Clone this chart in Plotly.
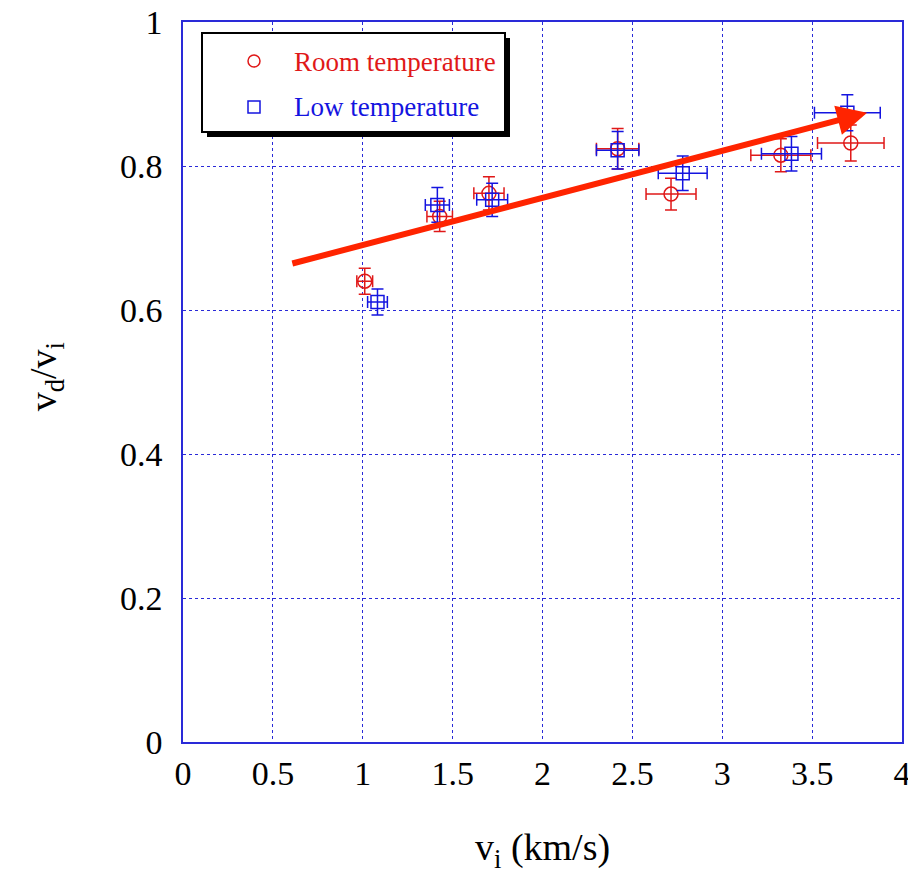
import plotly.graph_objects as go

# Room temperature measurements
room_vi = [1.011, 1.428, 1.702, 2.418, 2.715, 3.326, 3.715]
room_ratio = [0.640, 0.730, 0.762, 0.824, 0.761, 0.815, 0.832]
room_vi_err = [0.044, 0.071, 0.084, 0.118, 0.139, 0.167, 0.185]
room_ratio_err = [0.018, 0.021, 0.023, 0.028, 0.022, 0.023, 0.025]

# Low temperature measurements
low_vi = [1.082, 1.415, 1.720, 2.418, 2.780, 3.385, 3.696]
low_ratio = [0.611, 0.746, 0.753, 0.822, 0.790, 0.817, 0.874]
low_vi_err = [0.055, 0.067, 0.086, 0.118, 0.136, 0.167, 0.183]
low_ratio_err = [0.018, 0.024, 0.023, 0.026, 0.024, 0.024, 0.025]

# Trend arrow (tail -> head)
trend_start = (0.6, 0.664)
trend_end = (3.806, 0.874)

x_ticks = [0, 0.5, 1, 1.5, 2, 2.5, 3, 3.5, 4]
x_tick_labels = ["0", "0.5", "1", "1.5", "2", "2.5", "3", "3.5", "4"]
y_ticks = [0, 0.2, 0.4, 0.6, 0.8, 1]
y_tick_labels = ["0", "0.2", "0.4", "0.6", "0.8", "1"]

RED = "#e01818"
BLUE = "#1414e0"
GRID = "#2a2ad8"
FONT = "Liberation Serif"

fig = go.Figure()

fig.add_trace(go.Scatter(
    x=room_vi, y=room_ratio, mode="markers", name="Room temperature",
    marker=dict(symbol="circle-open", size=14, color=RED, line=dict(width=1.5, color=RED)),
    error_x=dict(type="data", array=room_vi_err, color=RED, thickness=1.5, width=6),
    error_y=dict(type="data", array=room_ratio_err, color=RED, thickness=1.5, width=6),
    showlegend=False,
))
fig.add_trace(go.Scatter(
    x=low_vi, y=low_ratio, mode="markers", name="Low temperature",
    marker=dict(symbol="square-open", size=13, color=BLUE, line=dict(width=1.5, color=BLUE)),
    error_x=dict(type="data", array=low_vi_err, color=BLUE, thickness=1.5, width=6),
    error_y=dict(type="data", array=low_ratio_err, color=BLUE, thickness=1.5, width=6),
    showlegend=False,
))

annotations = [
    dict(x=trend_end[0], y=trend_end[1], ax=trend_start[0], ay=trend_start[1],
         xref="x", yref="y", axref="x", ayref="y", text="", showarrow=True,
         arrowhead=2, arrowsize=1.0, arrowwidth=6, arrowcolor="#ff2400", standoff=0),
    dict(x=0.5, y=-0.15, xref="paper", yref="paper", showarrow=False,
         text="v<sub>i</sub> (km/s)", font=dict(family=FONT, size=38, color="black"),
         xanchor="center", yanchor="middle"),
    dict(x=-0.19, y=0.507, xref="paper", yref="paper", showarrow=False, textangle=-90,
         text="v<sub>d</sub>/v<sub>i</sub>", font=dict(family=FONT, size=38, color="black"),
         xanchor="center", yanchor="middle"),
]

# Legend panel built from shapes (drop shadow, box, markers) and text
W, H = 719.0, 720.0
def px(xp):
    return (xp - 183) / W
def py(yp):
    return (742 - yp) / H

shapes = [
    dict(type="rect", xref="paper", yref="paper", x0=px(207), x1=px(510), y0=py(137), y1=py(38),
         fillcolor="black", line=dict(width=0), layer="above"),
    dict(type="rect", xref="paper", yref="paper", x0=px(202), x1=px(505), y0=py(132), y1=py(33),
         fillcolor="white", line=dict(width=2, color="black"), layer="above"),
    dict(type="circle", xref="paper", yref="paper", x0=px(248), x1=px(260), y0=py(67), y1=py(55),
         line=dict(width=1.5, color=RED), layer="above"),
    dict(type="rect", xref="paper", yref="paper", x0=px(248), x1=px(260), y0=py(113), y1=py(101),
         line=dict(width=1.5, color=BLUE), layer="above"),
]
annotations += [
    dict(x=px(292), y=py(62), xref="paper", yref="paper", showarrow=False, text="Room temperature",
         font=dict(family=FONT, size=27, color=RED), xanchor="left", yanchor="middle"),
    dict(x=px(292), y=py(107), xref="paper", yref="paper", showarrow=False, text="Low temperature",
         font=dict(family=FONT, size=27, color=BLUE), xanchor="left", yanchor="middle"),
]

axis_common = dict(
    showgrid=True, gridcolor=GRID, gridwidth=1, griddash="3px,3px",
    showline=True, linecolor=GRID, linewidth=1.5, mirror=True, automargin=False,
    ticklabeloverflow="allow",
    zeroline=False, ticks="", tickfont=dict(family=FONT, size=34, color="black"),
)

fig.update_layout(
    width=908, height=884,
    margin=dict(l=183, r=6, t=22, b=142),
    paper_bgcolor="white", plot_bgcolor="white",
    xaxis=dict(range=[0, 4], tickvals=x_ticks, ticktext=x_tick_labels, ticklabelstandoff=0, **axis_common),
    yaxis=dict(range=[0, 1], tickvals=y_ticks, ticktext=y_tick_labels, ticklabelstandoff=12, **axis_common),
    annotations=annotations,
    shapes=shapes,
    showlegend=False,
)

fig.write_html("out.html")
